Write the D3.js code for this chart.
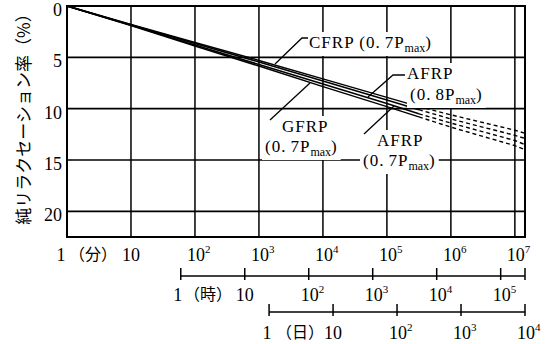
<!DOCTYPE html>
<html lang="ja">
<head>
<meta charset="utf-8">
<title>純リラクセーション率</title>
<script src="https://d3js.org/d3.v7.min.js"></script>
<style>
  body { margin: 0; background: #fff; }
  text { font-family: "Liberation Serif", "DejaVu Serif", serif; fill: #000; }
  .jp { font-family: "Noto Sans CJK JP", sans-serif; }
</style>
</head>
<body>
<div id="chart"></div>
<script>
// time in minutes; solid part is measured, dashed part is the extrapolation
var solidMinutes = [1, 10, 100, 1000, 10000, 100000, 316000];
var dashMinutes = [316000, 1000000, 10000000, 14400000];

var cfrp07 = [0, 1.8, 3.55, 5.3, 7.1, 8.9, 9.8];
var cfrp07Ext = [9.8, 10.6, 12.1, 12.4];
var afrp08 = [0, 1.83, 3.65, 5.45, 7.3, 9.15, 10.1];
var afrp08Ext = [10.1, 11.0, 12.6, 12.9];
var gfrp07 = [0, 1.87, 3.8, 5.7, 7.6, 9.5, 10.5];
var gfrp07Ext = [10.5, 11.4, 13.1, 13.5];
var afrp07 = [0, 1.9, 3.9, 5.85, 7.85, 9.8, 10.8];
var afrp07Ext = [10.8, 11.8, 13.6, 14.0];

var yTicks = [0, 5, 10, 15, 20];
var minuteTicks = [1, 10, 100, 1e3, 1e4, 1e5, 1e6, 1e7];
var hourTicks = [1, 10, 100, 1e3, 1e4, 1e5];
var dayTicks = [1, 10, 100, 1e3, 1e4];

var W = 552, H = 344;
var svg = d3.select("#chart").append("svg").attr("width", W).attr("height", H);

var x = d3.scaleLog().domain([1, 14400000]).range([67, 525]);
var y = d3.scaleLinear().domain([0, 22.5]).range([6, 237]);

// grid
svg.selectAll(".vg").data(minuteTicks).enter().append("line")
  .attr("x1", d => x(d)).attr("x2", d => x(d))
  .attr("y1", y(0)).attr("y2", y(22.5))
  .attr("stroke", "#000").attr("stroke-width", 1.5);
svg.selectAll(".hg").data(yTicks).enter().append("line")
  .attr("x1", x(1)).attr("x2", x(14400000))
  .attr("y1", d => y(d)).attr("y2", d => y(d))
  .attr("stroke", "#000").attr("stroke-width", 1.6);
svg.append("rect")
  .attr("x", x(1)).attr("y", y(0))
  .attr("width", x(14400000) - x(1)).attr("height", y(22.5) - y(0))
  .attr("fill", "none").attr("stroke", "#000").attr("stroke-width", 2);

// y tick labels
svg.selectAll(".yl").data(yTicks).enter().append("text")
  .attr("x", 62).attr("y", d => y(d) + 10)
  .attr("text-anchor", "end").style("font-size", "18px")
  .text(d => d);

svg.append("text").attr("class", "jp")
  .attr("transform", "translate(22,115) rotate(-90)")
  .attr("text-anchor", "middle").attr("dominant-baseline", "central")
  .style("font-size", "17px")
  .text("純リラクセーション率（%）");

// tick label "1", "10", "10^n"
function powLabel(g, px, py, v, oneShift) {
  var e = Math.round(Math.log10(v));
  if (e === 0) {
    g.append("text").attr("x", px + oneShift).attr("y", py)
      .attr("text-anchor", "middle").style("font-size", "18px").text("1");
  } else if (e === 1) {
    g.append("text").attr("x", px).attr("y", py)
      .attr("text-anchor", "middle").style("font-size", "18px").text("10");
  } else {
    var t = g.append("text").attr("x", px - 8).attr("y", py).style("font-size", "18px");
    t.append("tspan").text("10");
    t.append("tspan").attr("dy", -8).style("font-size", "11px").text(e);
  }
}

// minutes axis
minuteTicks.forEach(function (v) { powLabel(svg, x(v), 261, v, -6); });
svg.append("text").attr("class", "jp").attr("x", 93).attr("y", 260)
  .attr("text-anchor", "middle").style("font-size", "16px").text("（分）");

// hours axis
var hy = 276;
var hEnd = 14400000 / 60;
svg.append("line").attr("x1", x(60)).attr("x2", x(hEnd * 60))
  .attr("y1", hy).attr("y2", hy).attr("stroke", "#000").attr("stroke-width", 1.6);
svg.selectAll(".ht").data(hourTicks.concat([hEnd])).enter().append("line")
  .attr("x1", d => x(d * 60)).attr("x2", d => x(d * 60))
  .attr("y1", hy - 8).attr("y2", hy + 4)
  .attr("stroke", "#000").attr("stroke-width", 1.5);
hourTicks.forEach(function (v) { powLabel(svg, x(v * 60), 301, v, -3); });
svg.append("text").attr("class", "jp").attr("x", 208).attr("y", 300)
  .attr("text-anchor", "middle").style("font-size", "16px").text("（時）");

// days axis
var dy = 312;
svg.append("line").attr("x1", x(1440)).attr("x2", x(1e4 * 1440))
  .attr("y1", dy).attr("y2", dy).attr("stroke", "#000").attr("stroke-width", 1.6);
svg.selectAll(".dt").data(dayTicks).enter().append("line")
  .attr("x1", d => x(d * 1440)).attr("x2", d => x(d * 1440))
  .attr("y1", dy - 8).attr("y2", dy + 4)
  .attr("stroke", "#000").attr("stroke-width", 1.5);
dayTicks.forEach(function (v) { powLabel(svg, x(v * 1440), 339, v, -2); });
svg.append("text").attr("class", "jp").attr("x", 300).attr("y", 338)
  .attr("text-anchor", "middle").style("font-size", "16px").text("（日）");

// curve labels
var labelLayer = svg.append("g");
function pmax(g, px, py, coef) {
  var t = g.append("text").attr("x", px).attr("y", py)
    .style("font-size", "17px").style("letter-spacing", "1px");
  t.append("tspan").text("(" + coef.split(".")[0] + ".");
  t.append("tspan").attr("dx", 4).text(coef.split(".")[1] + "P");
  t.append("tspan").attr("dy", 4).style("font-size", "12px").style("letter-spacing", "0px").text("max");
  t.append("tspan").attr("dy", -4).text(")");
  return t;
}
function plain(g, px, py, s) {
  return g.append("text").attr("x", px).attr("y", py)
    .style("font-size", "17px").style("letter-spacing", "1px").text(s);
}

var texts = [];
var cf = plain(labelLayer, 309, 48, "CFRP ");
cf.append("tspan").text("(0.");
cf.append("tspan").attr("dx", 4).text("7P");
cf.append("tspan").attr("dy", 4).style("font-size", "12px").style("letter-spacing", "0px").text("max");
cf.append("tspan").attr("dy", -4).text(")");
texts.push(cf);
texts.push(plain(labelLayer, 407, 79, "AFRP"));
texts.push(pmax(labelLayer, 410, 100, "0.8"));
texts.push(plain(labelLayer, 282, 132, "GFRP"));
texts.push(pmax(labelLayer, 265, 152, "0.7"));
texts.push(plain(labelLayer, 377, 146, "AFRP"));
texts.push(pmax(labelLayer, 363, 166, "0.7"));

// white boxes behind labels hide the grid
texts.forEach(function (t) {
  var b = t.node().getBBox();
  labelLayer.insert("rect", "text")
    .attr("x", b.x - 3).attr("y", b.y - 1)
    .attr("width", b.width + 6).attr("height", b.height + 2)
    .attr("fill", "#fff");
});

// curves
var series = [
  { v: cfrp07, e: cfrp07Ext },
  { v: afrp08, e: afrp08Ext },
  { v: gfrp07, e: gfrp07Ext },
  { v: afrp07, e: afrp07Ext }
];
var line = d3.line().x(d => x(d[0])).y(d => y(d[1]));
var curveLayer = svg.append("g");
series.forEach(function (s) {
  curveLayer.append("path")
    .attr("d", line(d3.zip(solidMinutes, s.v)))
    .attr("fill", "none").attr("stroke", "#000").attr("stroke-width", 1.5);
  curveLayer.append("path")
    .attr("d", line(d3.zip(dashMinutes, s.e)))
    .attr("fill", "none").attr("stroke", "#000").attr("stroke-width", 1.4)
    .attr("stroke-dasharray", "4,3");
});
labelLayer.raise();

// leader lines
var leaders = [
  [[308, 38], [302, 38], [275, 64]],
  [[270, 120], [310, 83]],
  [[405, 75], [393, 75], [368, 97]],
  [[394, 106], [364, 134]]
];
leaders.forEach(function (p) {
  svg.append("path").attr("d", d3.line()(p))
    .attr("fill", "none").attr("stroke", "#000").attr("stroke-width", 1.3);
});
</script>
</body>
</html>
